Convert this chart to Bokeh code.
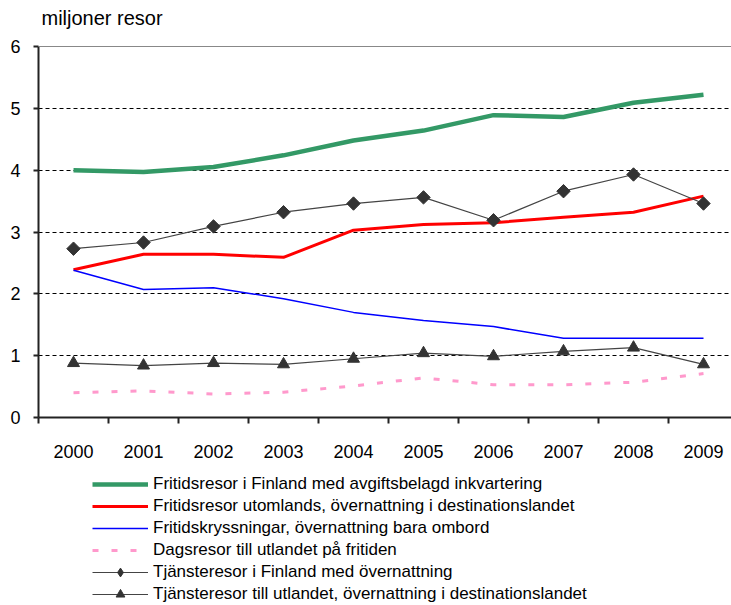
import math
from bokeh.plotting import figure
from bokeh.layouts import column
from bokeh.models import Range1d, FixedTicker, Legend, LegendItem, Span, Label
from bokeh.embed import file_html
from bokeh.resources import INLINE

years = ["2000", "2001", "2002", "2003", "2004", "2005", "2006", "2007", "2008", "2009"]
fritid_finland = [4.00, 3.97, 4.05, 4.24, 4.48, 4.64, 4.89, 4.86, 5.09, 5.22]
fritid_utomlands = [2.39, 2.64, 2.64, 2.59, 3.03, 3.12, 3.15, 3.24, 3.32, 3.58]
kryssningar = [2.38, 2.07, 2.10, 1.92, 1.70, 1.57, 1.47, 1.28, 1.28, 1.28]
dagsresor = [0.40, 0.43, 0.38, 0.41, 0.51, 0.64, 0.53, 0.53, 0.57, 0.71]
tjanste_finland = [2.73, 2.83, 3.09, 3.32, 3.46, 3.56, 3.19, 3.66, 3.93, 3.46]
tjanste_utland = [0.88, 0.84, 0.88, 0.86, 0.95, 1.04, 0.99, 1.07, 1.13, 0.86]

labels = [
    "Fritidsresor i Finland med avgiftsbelagd inkvartering",
    "Fritidsresor utomlands, övernattning i destinationslandet",
    "Fritidskryssningar, övernattning bara ombord",
    "Dagsresor till utlandet på fritiden",
    "Tjänsteresor i Finland med övernattning",
    "Tjänsteresor till utlandet, övernattning i destinationslandet",
]
unit_label = "miljoner resor"
y_ticks = [0, 1, 2, 3, 4, 5, 6]

FONT = "Liberation Sans"
x = list(range(len(years)))

styles = [
    dict(line_color="#339966", line_width=4.5),
    dict(line_color="#FF0000", line_width=3),
    dict(line_color="#0000FF", line_width=1.5),
    dict(line_color="#FF99CC", line_width=3, line_dash="6 13"),
    dict(line_color="#444444", line_width=1.2),
    dict(line_color="#444444", line_width=1.2),
]
MARK = "#333333"

# frame spans the whole top of the chart; the value axis is bounded to 0..6
p = figure(width=731, height=467, output_backend="svg", toolbar_location=None,
           x_range=Range1d(-0.5, 9.4), y_range=Range1d(0, 6.744),
           min_border_left=38, min_border_top=0, min_border_right=0,
           min_border_bottom=50)
p.outline_line_color = None

# unit label above the value axis
p.add_layout(Label(x=-0.457, y=6.453, text=unit_label, text_font=FONT,
                   text_font_size="20px", text_color="black",
                   text_align="left", text_baseline="middle"))

# x axis: labels at category centres, ticks at category boundaries
p.xaxis.ticker = FixedTicker(ticks=x, minor_ticks=[i - 0.5 for i in x])
p.xaxis.major_label_overrides = {i: years[i] for i in x}
p.xaxis.major_tick_line_color = None
p.xaxis.major_tick_out = 0
p.xaxis.minor_tick_out = 6
p.xaxis.minor_tick_in = 0
p.xaxis.minor_tick_line_color = "#222222"
p.xaxis.minor_tick_line_width = 2
p.xaxis.major_label_standoff = 21
# y axis
p.yaxis.ticker = FixedTicker(ticks=y_ticks)
p.yaxis.bounds = (0, 6)
p.yaxis.major_tick_out = 5
p.yaxis.major_tick_in = 0
p.yaxis.minor_tick_line_color = None
p.yaxis.major_label_standoff = 13
p.yaxis.major_tick_line_color = "#222222"
p.yaxis.major_tick_line_width = 2
for ax in (p.xaxis, p.yaxis):
    ax.axis_line_color = "#222222"
    ax.axis_line_width = 2
    ax.major_label_text_font = FONT
    ax.major_label_text_font_size = "18px"
    ax.major_label_text_color = "black"

p.xgrid.visible = False
p.ygrid.ticker = FixedTicker(ticks=[1, 2, 3, 4, 5])
p.ygrid.grid_line_color = "black"
p.ygrid.grid_line_dash = "4 3"
p.ygrid.grid_line_width = 1

p.add_layout(Span(location=6, dimension="width", line_color="#888888", line_width=1))

series = [fritid_finland, fritid_utomlands, kryssningar, dagsresor,
          tjanste_finland, tjanste_utland]
for vals, st in zip(series, styles):
    p.line(x, vals, **st)
p.scatter(x, tjanste_finland, marker="square", size=9.5, angle=math.pi / 4,
          fill_color=MARK, line_color=MARK)
p.scatter(x, tjanste_utland, marker="triangle", size=12, fill_color=MARK,
          line_color=MARK)

# legend panel below the chart (its sample glyphs sit outside the visible range)
q = figure(width=731, height=138, output_backend="svg", toolbar_location=None,
           x_range=Range1d(0, 1), y_range=Range1d(0, 1),
           x_axis_type=None, y_axis_type=None, min_border=0)
q.outline_line_color = None
q.xgrid.visible = False
q.ygrid.visible = False

hx, hy = [-10, -9], [-10, -10]
items = []
for i, (lab, st) in enumerate(zip(labels, styles)):
    rs = [q.line(hx, hy, **st)]
    if i == 4:
        rs.append(q.scatter(hx, hy, marker="diamond", size=9,
                            fill_color=MARK, line_color=MARK))
    if i == 5:
        rs.append(q.scatter(hx, hy, marker="triangle", size=8,
                            fill_color=MARK, line_color=MARK))
    items.append(LegendItem(label=lab, renderers=rs))

legend = Legend(items=items, location=(54, 0), orientation="vertical")
legend.padding = 0
legend.margin = 0
legend.spacing = 0
legend.border_line_color = None
legend.background_fill_alpha = 0
legend.glyph_width = 56
legend.glyph_height = 22
legend.label_height = 22
legend.label_standoff = 5
legend.label_text_font = FONT
legend.label_text_font_size = "17px"
legend.label_text_color = "black"
q.add_layout(legend)

layout = column(p, q, spacing=0)
open("out.html", "w").write(file_html(layout, INLINE))
